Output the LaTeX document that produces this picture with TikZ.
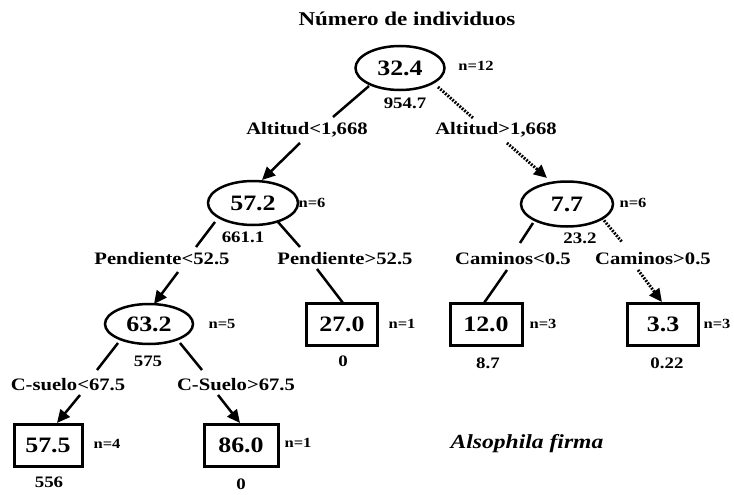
\documentclass[tikz,border=0pt]{standalone}
\usepackage{fontspec}
\setmainfont{Liberation Serif}[FakeStretch=1.18]
\usetikzlibrary{shapes.geometric,arrows.meta,calc}
\newcommand\fbig{\fontsize{22}{24}\selectfont\bfseries}
\newcommand\flbl{\fontsize{17.5}{19}\selectfont\bfseries}
\newcommand\fval{\fontsize{16}{18}\selectfont\bfseries}
\newcommand\fnsmall{\fontsize{14}{16}\selectfont\bfseries}
\newcommand\ftitle{\fontsize{19.5}{22}\selectfont\bfseries}
\tikzset{
  ell/.style={ellipse, draw, line width=2.5pt, inner sep=0pt, minimum width=89pt, minimum height=44pt, font=\fbig},
  leaf/.style={rectangle, draw, line width=3pt, inner sep=0pt, minimum height=42pt, font=\fbig},
  lbl/.style={inner sep=0pt, font=\flbl},
  val/.style={inner sep=0pt, font=\fval},
  nn/.style={inner sep=0pt, font=\fnsmall},
  edgeline/.style={line width=2.5pt},
  arr/.style={line width=2.5pt, -{Triangle[length=13pt,width=12pt]}},
  dotline/.style={line width=3pt, dash pattern=on 1.8pt off 1.4pt},
  dotarr/.style={dotline, -{Triangle[length=13pt,width=12pt]}}
}
\begin{document}
\begin{tikzpicture}[x=1pt,y=-1pt]
\useasboundingbox[fill=white] (0,0) rectangle (734,495);
\node[inner sep=0pt, font=\ftitle] (title) at (407,19) {Número de individuos};
% root
\node[ell] (e1) at (400,68) {32.4};
\node[nn] (n1) at (476,66) {n=12};
\node[val] (v1) at (405,103) {954.7};
\node[lbl] (lA) at (307,130) {Altitud<1,668};
\node[lbl] (lB) at (496,130) {Altitud>1,668};
% level 2
\node[ell, minimum width=90pt] (e2) at (253,203) {57.2};
\node[nn] (n2) at (312,203) {n=6};
\node[val] (v2) at (243,237) {661.1};
\node[lbl] (lC) at (162,259) {Pendiente<52.5};
\node[lbl] (lD) at (345,259) {Pendiente>52.5};
\node[ell, minimum width=92pt, minimum height=45pt] (e4) at (567,204) {7.7};
\node[nn] (n4) at (633,203) {n=6};
\node[val] (v4) at (580,238) {23.2};
\node[lbl] (lG) at (513,259) {Caminos<0.5};
\node[lbl] (lH) at (653,259) {Caminos>0.5};
% level 3
\node[ell, minimum width=88pt, minimum height=40pt] (e3) at (149,324) {63.2};
\node[nn] (n3) at (222,324) {n=5};
\node[val] (v3) at (148,361) {575};
\node[lbl] (lE) at (68,385) {C-suelo<67.5};
\node[lbl] (lF) at (236,385) {C-Suelo>67.5};
\node[leaf, minimum width=71pt] (b3) at (342,324) {27.0};
\node[nn] (nb3) at (402,324) {n=1};
\node[val] (vb3) at (343,361) {0};
\node[leaf, minimum width=72pt] (b4) at (486,324) {12.0};
\node[nn] (nb4) at (543,324) {n=3};
\node[val] (vb4) at (488,363) {8.7};
\node[leaf, minimum width=71pt] (b5) at (663,324) {3.3};
\node[nn] (nb5) at (717,324) {n=3};
\node[val] (vb5) at (667,363) {0.22};
% level 4
\node[leaf, minimum width=68pt] (b1) at (48,445) {57.5};
\node[nn] (nb1) at (107,444) {n=4};
\node[val] (vb1) at (49,482) {556};
\node[leaf, minimum width=74pt] (b2) at (241,445) {86.0};
\node[nn] (nb2) at (298,443) {n=1};
\node[val] (vb2) at (241,484) {0};
\node[inner sep=0pt, font=\fontsize{20}{22}\selectfont\bfseries\itshape] (sp) at (527,444) {Alsophila firma};
% connectors
\draw[edgeline] ($(e1)+(-31,18)$) -- ($(lA)+(26,-13)$);
\draw[dotline] ($(e1)+(38,19)$) -- ($(lB)+(-23,-12)$);
\draw[arr] ($(lA)+(-7,13)$) -- ($(e2)+(9,-23)$);
\draw[dotarr] ($(lB)+(11,13)$) -- ($(e4)+(-20,-26)$);
\draw[edgeline] ($(e2)+(-38,19)$) -- ($(lC)+(34,-12)$);
\draw[edgeline] ($(e2)+(25,19)$) -- ($(lD)+(-45,-12)$);
\draw[arr] ($(lC)+(16,13)$) -- ($(e3)+(5,-20)$);
\draw[edgeline] ($(lD)+(-28,10)$) -- ($(b3)+(1,-21)$);
\draw[edgeline] ($(e4)+(-34,19)$) -- ($(lG)+(7,-16)$);
\draw[dotline] ($(e4)+(35,14)$) -- ($(lH)+(-31,-17)$);
\draw[edgeline] ($(lG)+(-6,11)$) -- ($(b4)+(-2,-21)$);
\draw[dotarr] ($(lH)+(-15,11)$) -- ($(b5)+(-1,-22)$);
\draw[edgeline] ($(e3)+(-31,19)$) -- ($(lE)+(29,-15)$);
\draw[edgeline] ($(e3)+(31,19)$) -- ($(lF)+(-34,-15)$);
\draw[arr] ($(lE)+(12,10)$) -- ($(b1)+(9,-22)$);
\draw[arr] ($(lF)+(-18,10)$) -- ($(b2)+(-1,-22)$);
\end{tikzpicture}
\end{document}
